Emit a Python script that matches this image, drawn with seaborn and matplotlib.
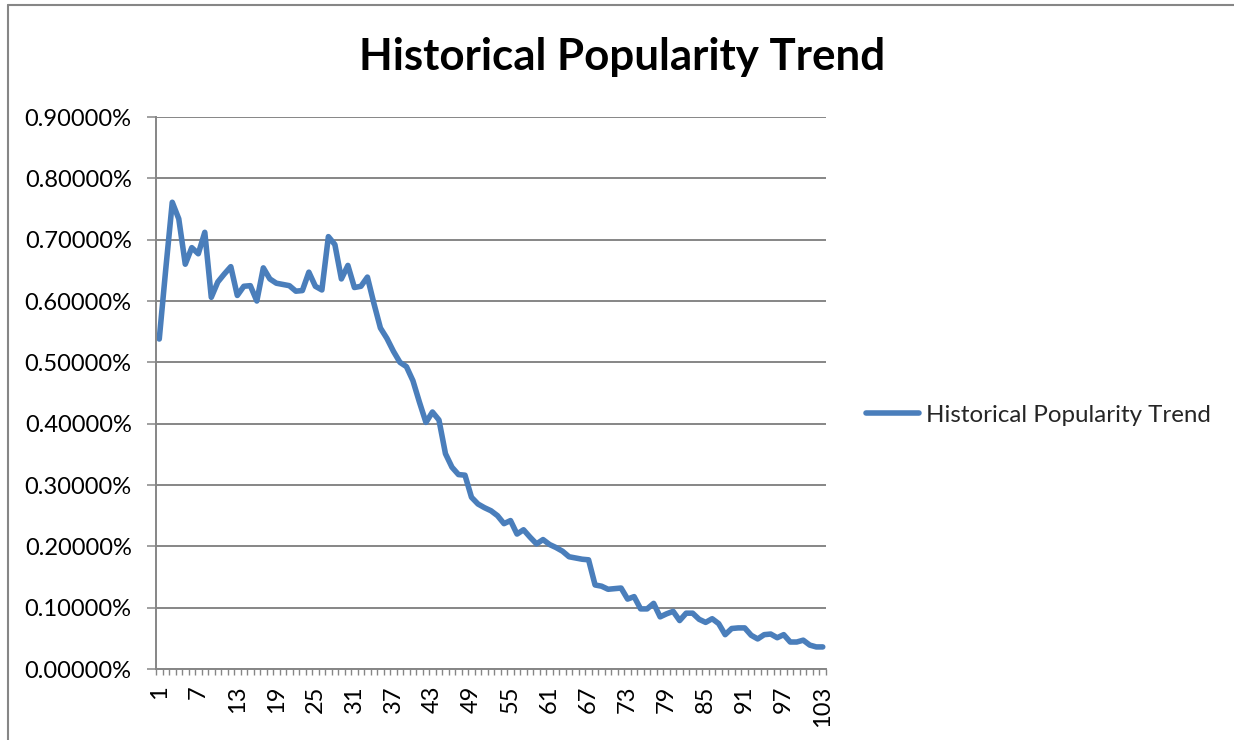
import numpy as np
import pandas as pd
import matplotlib
matplotlib.use("Agg")
import matplotlib.pyplot as plt
from matplotlib.lines import Line2D
from matplotlib.ticker import FixedLocator, FuncFormatter
import seaborn as sns

# Share of popularity per ranked position (percent)
positions = list(range(1, 104))
popularity_pct = [
    0.538, 0.652, 0.761, 0.734, 0.660, 0.687, 0.677, 0.712, 0.606, 0.631,
    0.644, 0.656, 0.609, 0.624, 0.625, 0.600, 0.654, 0.636, 0.629, 0.627,
    0.625, 0.616, 0.617, 0.647, 0.624, 0.618, 0.705, 0.692, 0.636, 0.658,
    0.622, 0.624, 0.639, 0.596, 0.556, 0.539, 0.518, 0.500, 0.493, 0.470,
    0.435, 0.402, 0.419, 0.406, 0.351, 0.329, 0.317, 0.316, 0.280, 0.269,
    0.263, 0.258, 0.250, 0.237, 0.242, 0.220, 0.227, 0.215, 0.204, 0.211,
    0.203, 0.198, 0.192, 0.183, 0.181, 0.179, 0.178, 0.137, 0.135, 0.130,
    0.131, 0.132, 0.114, 0.118, 0.098, 0.098, 0.107, 0.085, 0.090, 0.094,
    0.079, 0.091, 0.091, 0.081, 0.076, 0.082, 0.074, 0.056, 0.066, 0.067,
    0.067, 0.055, 0.049, 0.056, 0.057, 0.051, 0.056, 0.044, 0.044, 0.047,
    0.039, 0.036, 0.036,
]
series_name = "Historical Popularity Trend"
chart_title = "Historical Popularity Trend"
y_ticks = [0.0, 0.1, 0.2, 0.3, 0.4, 0.5, 0.6, 0.7, 0.8, 0.9]
x_tick_labels = list(range(1, 104, 6))

df = pd.DataFrame({"position": positions, "popularity": popularity_pct})

sns.set_theme(style="white")
plt.rcParams["font.family"] = ["Lato", "DejaVu Sans"]

W, H = 1234, 740
fig = plt.figure(figsize=(W / 100, H / 100), dpi=100)
ax = fig.add_axes([156 / W, 1 - 669 / H, (826 - 156) / W, (669 - 117) / H])

grey = "#868686"
blue = "#4A7EBB"
line_w = 4.0

sns.lineplot(data=df, x="position", y="popularity", ax=ax, color=blue,
             linewidth=line_w, label=series_name, legend=False,
             solid_joinstyle="round", solid_capstyle="round")

ax.set_xlim(0.5, 103.5)
ax.set_ylim(0, 0.9)
ax.set_xlabel("")
ax.set_ylabel("")

# y axis: percent labels with horizontal gridlines
ax.yaxis.set_major_locator(FixedLocator(y_ticks))
ax.yaxis.set_major_formatter(FuncFormatter(lambda v, p: f"{v:.5f}%"))
ax.grid(axis="y", color=grey, linewidth=1.4)
ax.grid(axis="x", visible=False)
ax.tick_params(axis="y", which="major", length=6.5, width=1.1, color=grey,
               pad=11, labelsize=17, labelcolor="black", left=True)

# x axis: a tick mark at every category boundary, labels every sixth category
ax.xaxis.set_minor_locator(FixedLocator(np.arange(0.5, 104, 1.0)))
ax.xaxis.set_major_locator(FixedLocator(x_tick_labels))
ax.xaxis.set_major_formatter(FuncFormatter(lambda v, p: f"{int(v)}"))
ax.tick_params(axis="x", which="minor", length=4.5, width=1.0, color=grey,
               direction="out", bottom=True)
ax.tick_params(axis="x", which="major", length=0, pad=12, labelsize=17,
               labelrotation=90, labelcolor="black", bottom=True)
for lbl in ax.get_xticklabels():
    lbl.set_verticalalignment("top")

for side in ("top", "right"):
    ax.spines[side].set_visible(False)
for side in ("left", "bottom"):
    ax.spines[side].set_color(grey)
    ax.spines[side].set_linewidth(1.4)
ax.set_axisbelow(True)

# Title
fig.text(622 / W, 1 - 57 / H, chart_title, ha="center", va="center",
         fontsize=31.6, fontweight="bold", color="black")

# Legend on the right
handles = [Line2D([0], [0], color=blue, linewidth=line_w, solid_capstyle="round")]
fig.legend(handles, [series_name], loc="center left",
           bbox_to_anchor=(866 / W, 1 - 415 / H), frameon=False,
           fontsize=17.4, handlelength=2.2, handletextpad=0.3,
           borderaxespad=0, borderpad=0)

# Chart-area border (left and top edges)
fig.add_artist(Line2D([7.5 / W, 7.5 / W], [0, 1 - 5 / H], color=grey,
                      linewidth=1.5, transform=fig.transFigure))
fig.add_artist(Line2D([7.5 / W, 1], [1 - 5 / H, 1 - 5 / H], color=grey,
                      linewidth=1.5, transform=fig.transFigure))

fig.savefig("out.png", dpi=100, facecolor="white")
